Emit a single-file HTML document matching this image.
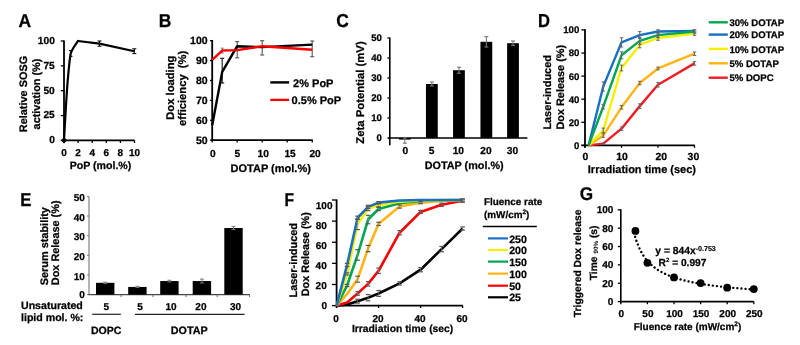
<!DOCTYPE html>
<html><head><meta charset="utf-8"><style>
html,body{margin:0;padding:0;background:#fff;width:800px;height:345px;overflow:hidden}
svg{display:block;will-change:transform}
text{font-family:"Liberation Sans",sans-serif;font-weight:bold;fill:#000;text-rendering:geometricPrecision;stroke:#000;stroke-width:0.25px}
</style></head><body>
<svg width="800" height="345" viewBox="0 0 800 345">
<rect width="800" height="345" fill="#fff"/>
<text transform="translate(18.60,27.00) scale(1,1.07)" font-size="17.5">A</text>
<line x1="64.00" y1="40.40" x2="64.00" y2="141.10" stroke="#000" stroke-width="1.8"/>
<line x1="60.80" y1="140.40" x2="64.00" y2="140.40" stroke="#000" stroke-width="1.3"/>
<text x="54.80" y="143.30" font-size="10.2" text-anchor="end" fill="#000" >0</text>
<line x1="60.80" y1="115.55" x2="64.00" y2="115.55" stroke="#000" stroke-width="1.3"/>
<text x="54.80" y="118.45" font-size="10.2" text-anchor="end" fill="#000" >25</text>
<line x1="60.80" y1="90.70" x2="64.00" y2="90.70" stroke="#000" stroke-width="1.3"/>
<text x="54.80" y="93.60" font-size="10.2" text-anchor="end" fill="#000" >50</text>
<line x1="60.80" y1="65.85" x2="64.00" y2="65.85" stroke="#000" stroke-width="1.3"/>
<text x="54.80" y="68.75" font-size="10.2" text-anchor="end" fill="#000" >75</text>
<line x1="60.80" y1="41.00" x2="64.00" y2="41.00" stroke="#000" stroke-width="1.3"/>
<text x="54.80" y="43.90" font-size="10.2" text-anchor="end" fill="#000" >100</text>
<line x1="63.20" y1="140.40" x2="134.60" y2="140.40" stroke="#000" stroke-width="1.8"/>
<line x1="64.00" y1="140.40" x2="64.00" y2="143.00" stroke="#000" stroke-width="1.3"/>
<text x="64.00" y="155.60" font-size="10" text-anchor="middle" fill="#000" >0</text>
<line x1="78.10" y1="140.40" x2="78.10" y2="143.00" stroke="#000" stroke-width="1.3"/>
<text x="78.10" y="155.60" font-size="10" text-anchor="middle" fill="#000" >2</text>
<line x1="92.20" y1="140.40" x2="92.20" y2="143.00" stroke="#000" stroke-width="1.3"/>
<text x="92.20" y="155.60" font-size="10" text-anchor="middle" fill="#000" >4</text>
<line x1="106.30" y1="140.40" x2="106.30" y2="143.00" stroke="#000" stroke-width="1.3"/>
<text x="106.30" y="155.60" font-size="10" text-anchor="middle" fill="#000" >6</text>
<line x1="120.40" y1="140.40" x2="120.40" y2="143.00" stroke="#000" stroke-width="1.3"/>
<text x="120.40" y="155.60" font-size="10" text-anchor="middle" fill="#000" >8</text>
<line x1="134.50" y1="140.40" x2="134.50" y2="143.00" stroke="#000" stroke-width="1.3"/>
<text x="134.50" y="155.60" font-size="10" text-anchor="middle" fill="#000" >10</text>
<text x="100.50" y="168.80" font-size="10.6" text-anchor="middle" fill="#000" >PoP (mol.%)</text>
<text transform="translate(26.90,94.00) rotate(-90)" font-size="10.9" text-anchor="middle" >Relative SOSG</text>
<text transform="translate(39.60,94.00) rotate(-90)" font-size="10.9" text-anchor="middle" >activation (%)</text>
<path d="M64.00,140.30 C64.16,137.47 65.24,117.83 65.60,112.00 C65.96,106.17 67.09,87.85 67.60,82.00 C68.11,76.15 69.67,57.60 70.70,53.50 C71.73,49.40 77.18,42.25 77.90,41.00" fill="none" stroke="#000" stroke-width="2.2" stroke-linejoin="round" stroke-linecap="round" />
<polyline points="77.90,41.00 99.50,43.60 134.30,51.20" fill="none" stroke="#000" stroke-width="2.2" stroke-linejoin="round" />
<line x1="70.70" y1="50.60" x2="70.70" y2="56.40" stroke="#111" stroke-width="1.1"/>
<line x1="68.95" y1="50.60" x2="72.45" y2="50.60" stroke="#111" stroke-width="1.1"/>
<line x1="68.95" y1="56.40" x2="72.45" y2="56.40" stroke="#111" stroke-width="1.1"/>
<line x1="99.50" y1="41.00" x2="99.50" y2="46.20" stroke="#111" stroke-width="1.1"/>
<line x1="97.50" y1="41.00" x2="101.50" y2="41.00" stroke="#111" stroke-width="1.1"/>
<line x1="97.50" y1="46.20" x2="101.50" y2="46.20" stroke="#111" stroke-width="1.1"/>
<line x1="134.30" y1="48.80" x2="134.30" y2="53.60" stroke="#111" stroke-width="1.1"/>
<line x1="132.30" y1="48.80" x2="136.30" y2="48.80" stroke="#111" stroke-width="1.1"/>
<line x1="132.30" y1="53.60" x2="136.30" y2="53.60" stroke="#111" stroke-width="1.1"/>
<rect x="61.8" y="138.1" width="4.4" height="4.4" transform="rotate(45 64 140.3)" fill="#000"/>
<text transform="translate(158.80,27.20) scale(1,1.07)" font-size="17.5">B</text>
<line x1="212.20" y1="40.00" x2="212.20" y2="140.90" stroke="#000" stroke-width="1.8"/>
<line x1="210.00" y1="140.20" x2="212.20" y2="140.20" stroke="#000" stroke-width="1.3"/>
<text x="207.60" y="143.90" font-size="10.5" text-anchor="end" fill="#000" >50</text>
<line x1="210.00" y1="120.28" x2="212.20" y2="120.28" stroke="#000" stroke-width="1.3"/>
<text x="207.60" y="123.98" font-size="10.5" text-anchor="end" fill="#000" >60</text>
<line x1="210.00" y1="100.36" x2="212.20" y2="100.36" stroke="#000" stroke-width="1.3"/>
<text x="207.60" y="104.06" font-size="10.5" text-anchor="end" fill="#000" >70</text>
<line x1="210.00" y1="80.44" x2="212.20" y2="80.44" stroke="#000" stroke-width="1.3"/>
<text x="207.60" y="84.14" font-size="10.5" text-anchor="end" fill="#000" >80</text>
<line x1="210.00" y1="60.52" x2="212.20" y2="60.52" stroke="#000" stroke-width="1.3"/>
<text x="207.60" y="64.22" font-size="10.5" text-anchor="end" fill="#000" >90</text>
<line x1="210.00" y1="40.60" x2="212.20" y2="40.60" stroke="#000" stroke-width="1.3"/>
<text x="207.60" y="44.30" font-size="10.5" text-anchor="end" fill="#000" >100</text>
<line x1="211.40" y1="140.20" x2="312.80" y2="140.20" stroke="#000" stroke-width="1.8"/>
<line x1="212.20" y1="140.20" x2="212.20" y2="142.60" stroke="#000" stroke-width="1.3"/>
<text x="212.75" y="157.20" font-size="10.2" text-anchor="middle" fill="#000" >0</text>
<line x1="237.20" y1="140.20" x2="237.20" y2="142.60" stroke="#000" stroke-width="1.3"/>
<text x="237.25" y="157.20" font-size="10.2" text-anchor="middle" fill="#000" >5</text>
<line x1="262.20" y1="140.20" x2="262.20" y2="142.60" stroke="#000" stroke-width="1.3"/>
<text x="263.15" y="157.20" font-size="10.2" text-anchor="middle" fill="#000" >10</text>
<line x1="287.20" y1="140.20" x2="287.20" y2="142.60" stroke="#000" stroke-width="1.3"/>
<text x="290.10" y="157.20" font-size="10.2" text-anchor="middle" fill="#000" >15</text>
<line x1="312.20" y1="140.20" x2="312.20" y2="142.60" stroke="#000" stroke-width="1.3"/>
<text x="315.10" y="157.20" font-size="10.2" text-anchor="middle" fill="#000" >20</text>
<text x="270.70" y="172.30" font-size="11" text-anchor="middle" fill="#000" >DOTAP (mol.%)</text>
<text transform="translate(174.00,87.70) rotate(-90)" font-size="11.2" text-anchor="middle" >Dox loading</text>
<text transform="translate(186.00,88.40) rotate(-90)" font-size="11.2" text-anchor="middle" >efficiency&#160; (%)</text>
<line x1="222.20" y1="58.30" x2="222.20" y2="83.00" stroke="#222" stroke-width="1.2"/>
<line x1="220.20" y1="58.30" x2="224.20" y2="58.30" stroke="#222" stroke-width="1.2"/>
<line x1="220.20" y1="83.00" x2="224.20" y2="83.00" stroke="#222" stroke-width="1.2"/>
<line x1="237.20" y1="41.60" x2="237.20" y2="57.80" stroke="#555" stroke-width="1.1"/>
<line x1="235.20" y1="41.60" x2="239.20" y2="41.60" stroke="#555" stroke-width="1.1"/>
<line x1="235.20" y1="57.80" x2="239.20" y2="57.80" stroke="#555" stroke-width="1.1"/>
<line x1="262.20" y1="40.70" x2="262.20" y2="55.00" stroke="#555" stroke-width="1.1"/>
<line x1="260.20" y1="40.70" x2="264.20" y2="40.70" stroke="#555" stroke-width="1.1"/>
<line x1="260.20" y1="55.00" x2="264.20" y2="55.00" stroke="#555" stroke-width="1.1"/>
<line x1="312.20" y1="41.00" x2="312.20" y2="56.70" stroke="#555" stroke-width="1.1"/>
<line x1="310.20" y1="41.00" x2="314.20" y2="41.00" stroke="#555" stroke-width="1.1"/>
<line x1="310.20" y1="56.70" x2="314.20" y2="56.70" stroke="#555" stroke-width="1.1"/>
<polyline points="212.20,125.26 222.20,71.87 237.20,46.18 262.20,47.17 312.20,44.58" fill="none" stroke="#000" stroke-width="2.4" stroke-linejoin="round" />
<line x1="222.20" y1="48.17" x2="222.20" y2="52.95" stroke="#777" stroke-width="1"/>
<line x1="220.70" y1="48.17" x2="223.70" y2="48.17" stroke="#777" stroke-width="1"/>
<line x1="220.70" y1="52.95" x2="223.70" y2="52.95" stroke="#777" stroke-width="1"/>
<polyline points="212.20,59.92 222.20,50.56 237.20,50.16 262.20,46.18 312.20,49.76" fill="none" stroke="#f00" stroke-width="2.4" stroke-linejoin="round" />
<line x1="270.30" y1="82.40" x2="289.10" y2="82.40" stroke="#000" stroke-width="2.4"/>
<text x="293.10" y="86.60" font-size="11" text-anchor="start" fill="#000" >2% PoP</text>
<line x1="270.30" y1="99.90" x2="289.10" y2="99.90" stroke="#f00" stroke-width="2.3"/>
<text x="291.60" y="103.70" font-size="11" text-anchor="start" fill="#000" >0.5% PoP</text>
<text transform="translate(336.20,26.60) scale(1,1.07)" font-size="17.5">C</text>
<line x1="389.80" y1="37.40" x2="389.80" y2="145.30" stroke="#000" stroke-width="1.6"/>
<line x1="387.40" y1="138.00" x2="389.80" y2="138.00" stroke="#000" stroke-width="1.3"/>
<text x="381.80" y="141.40" font-size="9.6" text-anchor="end" fill="#000" >0</text>
<line x1="387.40" y1="118.00" x2="389.80" y2="118.00" stroke="#000" stroke-width="1.3"/>
<text x="381.80" y="121.40" font-size="9.6" text-anchor="end" fill="#000" >10</text>
<line x1="387.40" y1="98.00" x2="389.80" y2="98.00" stroke="#000" stroke-width="1.3"/>
<text x="381.80" y="101.40" font-size="9.6" text-anchor="end" fill="#000" >20</text>
<line x1="387.40" y1="78.00" x2="389.80" y2="78.00" stroke="#000" stroke-width="1.3"/>
<text x="381.80" y="81.40" font-size="9.6" text-anchor="end" fill="#000" >30</text>
<line x1="387.40" y1="58.00" x2="389.80" y2="58.00" stroke="#000" stroke-width="1.3"/>
<text x="381.80" y="61.40" font-size="9.6" text-anchor="end" fill="#000" >40</text>
<line x1="387.40" y1="38.00" x2="389.80" y2="38.00" stroke="#000" stroke-width="1.3"/>
<text x="381.80" y="41.40" font-size="9.6" text-anchor="end" fill="#000" >50</text>
<line x1="388.40" y1="138.00" x2="527.40" y2="138.00" stroke="#000" stroke-width="1.6"/>
<rect x="398.90" y="138.00" width="11.80" height="1.60" fill="#000"/>
<line x1="404.80" y1="138.00" x2="404.80" y2="143.20" stroke="#777" stroke-width="1.1"/>
<line x1="402.80" y1="138.00" x2="406.80" y2="138.00" stroke="#777" stroke-width="1.1"/>
<line x1="402.80" y1="143.20" x2="406.80" y2="143.20" stroke="#777" stroke-width="1.1"/>
<text x="405.40" y="154.10" font-size="10.2" text-anchor="middle" fill="#000" >0</text>
<rect x="425.95" y="84.00" width="11.80" height="54.00" fill="#000"/>
<line x1="431.85" y1="82.00" x2="431.85" y2="86.00" stroke="#777" stroke-width="1.1"/>
<line x1="429.85" y1="82.00" x2="433.85" y2="82.00" stroke="#777" stroke-width="1.1"/>
<line x1="429.85" y1="86.00" x2="433.85" y2="86.00" stroke="#777" stroke-width="1.1"/>
<text x="431.50" y="154.10" font-size="10.2" text-anchor="middle" fill="#000" >5</text>
<rect x="453.05" y="70.20" width="11.80" height="67.80" fill="#000"/>
<line x1="458.95" y1="67.20" x2="458.95" y2="73.20" stroke="#777" stroke-width="1.1"/>
<line x1="456.95" y1="67.20" x2="460.95" y2="67.20" stroke="#777" stroke-width="1.1"/>
<line x1="456.95" y1="73.20" x2="460.95" y2="73.20" stroke="#777" stroke-width="1.1"/>
<text x="458.30" y="154.10" font-size="10.2" text-anchor="middle" fill="#000" >10</text>
<rect x="480.45" y="41.80" width="11.80" height="96.20" fill="#000"/>
<line x1="486.35" y1="36.60" x2="486.35" y2="47.00" stroke="#777" stroke-width="1.1"/>
<line x1="484.35" y1="36.60" x2="488.35" y2="36.60" stroke="#777" stroke-width="1.1"/>
<line x1="484.35" y1="47.00" x2="488.35" y2="47.00" stroke="#777" stroke-width="1.1"/>
<text x="485.90" y="154.10" font-size="10.2" text-anchor="middle" fill="#000" >20</text>
<rect x="507.10" y="43.20" width="11.80" height="94.80" fill="#000"/>
<line x1="513.00" y1="41.00" x2="513.00" y2="45.40" stroke="#777" stroke-width="1.1"/>
<line x1="511.00" y1="41.00" x2="515.00" y2="41.00" stroke="#777" stroke-width="1.1"/>
<line x1="511.00" y1="45.40" x2="515.00" y2="45.40" stroke="#777" stroke-width="1.1"/>
<text x="512.50" y="154.10" font-size="10.2" text-anchor="middle" fill="#000" >30</text>
<text x="464.20" y="169.10" font-size="10.8" text-anchor="middle" fill="#000" >DOTAP (mol.%)</text>
<text transform="translate(364.10,92.50) rotate(-90)" font-size="11.3" text-anchor="middle" >Zeta Potential (mV)</text>
<text transform="translate(537.90,27.20) scale(1,1.14)" font-size="16.5">D</text>
<line x1="585.00" y1="29.30" x2="585.00" y2="147.80" stroke="#000" stroke-width="1.8"/>
<line x1="581.40" y1="145.40" x2="585.00" y2="145.40" stroke="#000" stroke-width="1.3"/>
<text x="579.30" y="148.80" font-size="9.6" text-anchor="end" fill="#000" >0</text>
<line x1="581.40" y1="122.30" x2="585.00" y2="122.30" stroke="#000" stroke-width="1.3"/>
<text x="579.30" y="125.70" font-size="9.6" text-anchor="end" fill="#000" >20</text>
<line x1="581.40" y1="99.20" x2="585.00" y2="99.20" stroke="#000" stroke-width="1.3"/>
<text x="579.30" y="102.60" font-size="9.6" text-anchor="end" fill="#000" >40</text>
<line x1="581.40" y1="76.10" x2="585.00" y2="76.10" stroke="#000" stroke-width="1.3"/>
<text x="579.30" y="79.50" font-size="9.6" text-anchor="end" fill="#000" >60</text>
<line x1="581.40" y1="53.00" x2="585.00" y2="53.00" stroke="#000" stroke-width="1.3"/>
<text x="579.30" y="56.40" font-size="9.6" text-anchor="end" fill="#000" >80</text>
<line x1="581.40" y1="29.90" x2="585.00" y2="29.90" stroke="#000" stroke-width="1.3"/>
<text x="579.30" y="33.30" font-size="9.6" text-anchor="end" fill="#000" >100</text>
<line x1="581.40" y1="145.40" x2="694.80" y2="145.40" stroke="#000" stroke-width="1.8"/>
<line x1="585.00" y1="145.40" x2="585.00" y2="147.80" stroke="#000" stroke-width="1.3"/>
<text x="585.40" y="160.20" font-size="10.4" text-anchor="middle" fill="#000" >0</text>
<line x1="621.50" y1="145.40" x2="621.50" y2="147.80" stroke="#000" stroke-width="1.3"/>
<text x="622.00" y="160.20" font-size="10.4" text-anchor="middle" fill="#000" >10</text>
<line x1="658.00" y1="145.40" x2="658.00" y2="147.80" stroke="#000" stroke-width="1.3"/>
<text x="661.20" y="160.20" font-size="10.4" text-anchor="middle" fill="#000" >20</text>
<line x1="694.50" y1="145.40" x2="694.50" y2="147.80" stroke="#000" stroke-width="1.3"/>
<text x="693.40" y="160.20" font-size="10.4" text-anchor="middle" fill="#000" >30</text>
<text x="641.90" y="173.30" font-size="11" text-anchor="middle" fill="#000" >Irradiation time (sec)</text>
<text transform="translate(551.20,129.60) rotate(-90)" font-size="10.9" text-anchor="start" >Laser-induced</text>
<text transform="translate(564.20,129.60) rotate(-90)" font-size="10.9" text-anchor="start" >Dox Release (%)</text>
<polyline points="588.65,145.40 603.25,143.67 621.50,128.65 639.75,106.13 658.00,84.76 694.50,63.40" fill="none" stroke="#ee1c24" stroke-width="2.4" stroke-linejoin="round" />
<polyline points="588.65,145.40 603.25,135.58 621.50,107.28 639.75,83.03 658.00,68.48 694.50,53.69" fill="none" stroke="#fdb515" stroke-width="2.4" stroke-linejoin="round" />
<polyline points="588.65,145.40 603.25,130.38 621.50,68.02 639.75,44.92 658.00,37.98 694.50,33.60" fill="none" stroke="#f5f000" stroke-width="2.4" stroke-linejoin="round" />
<polyline points="588.65,145.40 603.25,86.50 621.50,42.37 639.75,35.10 658.00,31.52 694.50,31.06" fill="none" stroke="#1a6fc4" stroke-width="2.4" stroke-linejoin="round" />
<polyline points="588.65,145.40 603.25,106.71 621.50,55.31 639.75,40.87 658.00,35.10 694.50,31.52" fill="none" stroke="#00a650" stroke-width="2.4" stroke-linejoin="round" />
<line x1="603.25" y1="104.40" x2="603.25" y2="109.02" stroke="#666" stroke-width="1"/>
<line x1="601.50" y1="104.40" x2="605.00" y2="104.40" stroke="#666" stroke-width="1"/>
<line x1="601.50" y1="109.02" x2="605.00" y2="109.02" stroke="#666" stroke-width="1"/>
<line x1="621.50" y1="51.84" x2="621.50" y2="58.78" stroke="#666" stroke-width="1"/>
<line x1="619.75" y1="51.84" x2="623.25" y2="51.84" stroke="#666" stroke-width="1"/>
<line x1="619.75" y1="58.78" x2="623.25" y2="58.78" stroke="#666" stroke-width="1"/>
<line x1="639.75" y1="37.41" x2="639.75" y2="44.34" stroke="#666" stroke-width="1"/>
<line x1="638.00" y1="37.41" x2="641.50" y2="37.41" stroke="#666" stroke-width="1"/>
<line x1="638.00" y1="44.34" x2="641.50" y2="44.34" stroke="#666" stroke-width="1"/>
<line x1="658.00" y1="32.79" x2="658.00" y2="37.41" stroke="#666" stroke-width="1"/>
<line x1="656.25" y1="32.79" x2="659.75" y2="32.79" stroke="#666" stroke-width="1"/>
<line x1="656.25" y1="37.41" x2="659.75" y2="37.41" stroke="#666" stroke-width="1"/>
<line x1="694.50" y1="29.78" x2="694.50" y2="33.25" stroke="#666" stroke-width="1"/>
<line x1="692.75" y1="29.78" x2="696.25" y2="29.78" stroke="#666" stroke-width="1"/>
<line x1="692.75" y1="33.25" x2="696.25" y2="33.25" stroke="#666" stroke-width="1"/>
<line x1="603.25" y1="81.88" x2="603.25" y2="91.12" stroke="#666" stroke-width="1"/>
<line x1="601.50" y1="81.88" x2="605.00" y2="81.88" stroke="#666" stroke-width="1"/>
<line x1="601.50" y1="91.12" x2="605.00" y2="91.12" stroke="#666" stroke-width="1"/>
<line x1="621.50" y1="37.75" x2="621.50" y2="46.99" stroke="#666" stroke-width="1"/>
<line x1="619.75" y1="37.75" x2="623.25" y2="37.75" stroke="#666" stroke-width="1"/>
<line x1="619.75" y1="46.99" x2="623.25" y2="46.99" stroke="#666" stroke-width="1"/>
<line x1="639.75" y1="31.63" x2="639.75" y2="38.56" stroke="#666" stroke-width="1"/>
<line x1="638.00" y1="31.63" x2="641.50" y2="31.63" stroke="#666" stroke-width="1"/>
<line x1="638.00" y1="38.56" x2="641.50" y2="38.56" stroke="#666" stroke-width="1"/>
<line x1="658.00" y1="29.78" x2="658.00" y2="33.25" stroke="#666" stroke-width="1"/>
<line x1="656.25" y1="29.78" x2="659.75" y2="29.78" stroke="#666" stroke-width="1"/>
<line x1="656.25" y1="33.25" x2="659.75" y2="33.25" stroke="#666" stroke-width="1"/>
<line x1="694.50" y1="29.90" x2="694.50" y2="32.21" stroke="#666" stroke-width="1"/>
<line x1="692.75" y1="29.90" x2="696.25" y2="29.90" stroke="#666" stroke-width="1"/>
<line x1="692.75" y1="32.21" x2="696.25" y2="32.21" stroke="#666" stroke-width="1"/>
<line x1="603.25" y1="128.08" x2="603.25" y2="132.69" stroke="#666" stroke-width="1"/>
<line x1="601.50" y1="128.08" x2="605.00" y2="128.08" stroke="#666" stroke-width="1"/>
<line x1="601.50" y1="132.69" x2="605.00" y2="132.69" stroke="#666" stroke-width="1"/>
<line x1="621.50" y1="65.13" x2="621.50" y2="70.90" stroke="#666" stroke-width="1"/>
<line x1="619.75" y1="65.13" x2="623.25" y2="65.13" stroke="#666" stroke-width="1"/>
<line x1="619.75" y1="70.90" x2="623.25" y2="70.90" stroke="#666" stroke-width="1"/>
<line x1="639.75" y1="42.03" x2="639.75" y2="47.80" stroke="#666" stroke-width="1"/>
<line x1="638.00" y1="42.03" x2="641.50" y2="42.03" stroke="#666" stroke-width="1"/>
<line x1="638.00" y1="47.80" x2="641.50" y2="47.80" stroke="#666" stroke-width="1"/>
<line x1="658.00" y1="35.67" x2="658.00" y2="40.30" stroke="#666" stroke-width="1"/>
<line x1="656.25" y1="35.67" x2="659.75" y2="35.67" stroke="#666" stroke-width="1"/>
<line x1="656.25" y1="40.30" x2="659.75" y2="40.30" stroke="#666" stroke-width="1"/>
<line x1="694.50" y1="31.86" x2="694.50" y2="35.33" stroke="#666" stroke-width="1"/>
<line x1="692.75" y1="31.86" x2="696.25" y2="31.86" stroke="#666" stroke-width="1"/>
<line x1="692.75" y1="35.33" x2="696.25" y2="35.33" stroke="#666" stroke-width="1"/>
<line x1="603.25" y1="133.85" x2="603.25" y2="137.31" stroke="#666" stroke-width="1"/>
<line x1="601.50" y1="133.85" x2="605.00" y2="133.85" stroke="#666" stroke-width="1"/>
<line x1="601.50" y1="137.31" x2="605.00" y2="137.31" stroke="#666" stroke-width="1"/>
<line x1="621.50" y1="105.55" x2="621.50" y2="109.02" stroke="#666" stroke-width="1"/>
<line x1="619.75" y1="105.55" x2="623.25" y2="105.55" stroke="#666" stroke-width="1"/>
<line x1="619.75" y1="109.02" x2="623.25" y2="109.02" stroke="#666" stroke-width="1"/>
<line x1="639.75" y1="81.30" x2="639.75" y2="84.76" stroke="#666" stroke-width="1"/>
<line x1="638.00" y1="81.30" x2="641.50" y2="81.30" stroke="#666" stroke-width="1"/>
<line x1="638.00" y1="84.76" x2="641.50" y2="84.76" stroke="#666" stroke-width="1"/>
<line x1="658.00" y1="67.09" x2="658.00" y2="69.86" stroke="#666" stroke-width="1"/>
<line x1="656.25" y1="67.09" x2="659.75" y2="67.09" stroke="#666" stroke-width="1"/>
<line x1="656.25" y1="69.86" x2="659.75" y2="69.86" stroke="#666" stroke-width="1"/>
<line x1="694.50" y1="51.96" x2="694.50" y2="55.43" stroke="#666" stroke-width="1"/>
<line x1="692.75" y1="51.96" x2="696.25" y2="51.96" stroke="#666" stroke-width="1"/>
<line x1="692.75" y1="55.43" x2="696.25" y2="55.43" stroke="#666" stroke-width="1"/>
<line x1="603.25" y1="143.09" x2="603.25" y2="144.25" stroke="#666" stroke-width="1"/>
<line x1="601.50" y1="143.09" x2="605.00" y2="143.09" stroke="#666" stroke-width="1"/>
<line x1="601.50" y1="144.25" x2="605.00" y2="144.25" stroke="#666" stroke-width="1"/>
<line x1="621.50" y1="126.92" x2="621.50" y2="130.38" stroke="#666" stroke-width="1"/>
<line x1="619.75" y1="126.92" x2="623.25" y2="126.92" stroke="#666" stroke-width="1"/>
<line x1="619.75" y1="130.38" x2="623.25" y2="130.38" stroke="#666" stroke-width="1"/>
<line x1="639.75" y1="103.82" x2="639.75" y2="108.44" stroke="#666" stroke-width="1"/>
<line x1="638.00" y1="103.82" x2="641.50" y2="103.82" stroke="#666" stroke-width="1"/>
<line x1="638.00" y1="108.44" x2="641.50" y2="108.44" stroke="#666" stroke-width="1"/>
<line x1="658.00" y1="82.45" x2="658.00" y2="87.07" stroke="#666" stroke-width="1"/>
<line x1="656.25" y1="82.45" x2="659.75" y2="82.45" stroke="#666" stroke-width="1"/>
<line x1="656.25" y1="87.07" x2="659.75" y2="87.07" stroke="#666" stroke-width="1"/>
<line x1="694.50" y1="61.66" x2="694.50" y2="65.13" stroke="#666" stroke-width="1"/>
<line x1="692.75" y1="61.66" x2="696.25" y2="61.66" stroke="#666" stroke-width="1"/>
<line x1="692.75" y1="65.13" x2="696.25" y2="65.13" stroke="#666" stroke-width="1"/>
<line x1="708.70" y1="22.30" x2="727.80" y2="22.30" stroke="#00a650" stroke-width="2.4"/>
<text x="729.40" y="25.90" font-size="9.6" text-anchor="start" fill="#000" >30% DOTAP</text>
<line x1="708.70" y1="34.60" x2="727.80" y2="34.60" stroke="#1a6fc4" stroke-width="2.4"/>
<text x="729.40" y="38.20" font-size="9.6" text-anchor="start" fill="#000" >20% DOTAP</text>
<line x1="708.70" y1="48.90" x2="727.80" y2="48.90" stroke="#f5f000" stroke-width="2.4"/>
<text x="729.40" y="52.50" font-size="9.6" text-anchor="start" fill="#000" >10% DOTAP</text>
<line x1="708.70" y1="63.30" x2="727.80" y2="63.30" stroke="#fdb515" stroke-width="2.4"/>
<text x="729.40" y="66.90" font-size="9.6" text-anchor="start" fill="#000" >5% DOTAP</text>
<line x1="708.70" y1="77.70" x2="727.80" y2="77.70" stroke="#ee1c24" stroke-width="2.4"/>
<text x="729.40" y="81.30" font-size="9.6" text-anchor="start" fill="#000" >5% DOPC</text>
<text transform="translate(20.30,206.30) scale(1,1.12)" font-size="16.7">E</text>
<line x1="89.00" y1="196.40" x2="89.00" y2="294.60" stroke="#777" stroke-width="1.1"/>
<line x1="87.00" y1="294.60" x2="89.00" y2="294.60" stroke="#777" stroke-width="1"/>
<text x="84.80" y="298.30" font-size="10" text-anchor="end" fill="#000" >0</text>
<line x1="87.00" y1="274.96" x2="89.00" y2="274.96" stroke="#777" stroke-width="1"/>
<text x="84.80" y="279.76" font-size="10" text-anchor="end" fill="#000" >10</text>
<line x1="87.00" y1="255.32" x2="89.00" y2="255.32" stroke="#777" stroke-width="1"/>
<text x="84.80" y="260.12" font-size="10" text-anchor="end" fill="#000" >20</text>
<line x1="87.00" y1="235.68" x2="89.00" y2="235.68" stroke="#777" stroke-width="1"/>
<text x="84.80" y="240.48" font-size="10" text-anchor="end" fill="#000" >30</text>
<line x1="87.00" y1="216.04" x2="89.00" y2="216.04" stroke="#777" stroke-width="1"/>
<text x="84.80" y="220.84" font-size="10" text-anchor="end" fill="#000" >40</text>
<line x1="87.00" y1="196.40" x2="89.00" y2="196.40" stroke="#777" stroke-width="1"/>
<text x="84.80" y="201.20" font-size="10" text-anchor="end" fill="#000" >50</text>
<line x1="88.40" y1="294.60" x2="249.80" y2="294.60" stroke="#444" stroke-width="1.3"/>
<line x1="121.10" y1="294.60" x2="121.10" y2="297.00" stroke="#666" stroke-width="1"/>
<line x1="153.00" y1="294.60" x2="153.00" y2="297.00" stroke="#666" stroke-width="1"/>
<line x1="186.00" y1="294.60" x2="186.00" y2="297.00" stroke="#666" stroke-width="1"/>
<line x1="217.20" y1="294.60" x2="217.20" y2="297.00" stroke="#666" stroke-width="1"/>
<line x1="249.60" y1="294.60" x2="249.60" y2="297.00" stroke="#666" stroke-width="1"/>
<rect x="96.00" y="282.82" width="18.40" height="11.78" fill="#000"/>
<line x1="105.20" y1="282.23" x2="105.20" y2="283.41" stroke="#777" stroke-width="1"/>
<line x1="103.20" y1="282.23" x2="107.20" y2="282.23" stroke="#777" stroke-width="1"/>
<line x1="103.20" y1="283.41" x2="107.20" y2="283.41" stroke="#777" stroke-width="1"/>
<rect x="128.20" y="286.94" width="18.40" height="7.66" fill="#000"/>
<line x1="137.40" y1="286.35" x2="137.40" y2="287.53" stroke="#777" stroke-width="1"/>
<line x1="135.40" y1="286.35" x2="139.40" y2="286.35" stroke="#777" stroke-width="1"/>
<line x1="135.40" y1="287.53" x2="139.40" y2="287.53" stroke="#777" stroke-width="1"/>
<rect x="160.20" y="281.05" width="18.40" height="13.55" fill="#000"/>
<line x1="169.40" y1="280.26" x2="169.40" y2="281.83" stroke="#777" stroke-width="1"/>
<line x1="167.40" y1="280.26" x2="171.40" y2="280.26" stroke="#777" stroke-width="1"/>
<line x1="167.40" y1="281.83" x2="171.40" y2="281.83" stroke="#777" stroke-width="1"/>
<rect x="192.70" y="281.05" width="18.40" height="13.55" fill="#000"/>
<line x1="201.90" y1="279.08" x2="201.90" y2="283.01" stroke="#777" stroke-width="1"/>
<line x1="199.90" y1="279.08" x2="203.90" y2="279.08" stroke="#777" stroke-width="1"/>
<line x1="199.90" y1="283.01" x2="203.90" y2="283.01" stroke="#777" stroke-width="1"/>
<rect x="224.30" y="228.02" width="18.40" height="66.58" fill="#000"/>
<line x1="233.50" y1="226.45" x2="233.50" y2="229.59" stroke="#777" stroke-width="1"/>
<line x1="231.50" y1="226.45" x2="235.50" y2="226.45" stroke="#777" stroke-width="1"/>
<line x1="231.50" y1="229.59" x2="235.50" y2="229.59" stroke="#777" stroke-width="1"/>
<text x="106.20" y="310.20" font-size="10" text-anchor="middle" fill="#000" >5</text>
<text x="140.00" y="310.20" font-size="10" text-anchor="middle" fill="#000" >5</text>
<text x="171.00" y="310.20" font-size="10" text-anchor="middle" fill="#000" >10</text>
<text x="200.90" y="310.20" font-size="10" text-anchor="middle" fill="#000" >20</text>
<text x="235.50" y="310.20" font-size="10" text-anchor="middle" fill="#000" >30</text>
<text x="21.00" y="308.60" font-size="10.6" text-anchor="start" fill="#000" >Unsaturated</text>
<text x="21.00" y="321.00" font-size="10.6" text-anchor="start" fill="#000" >lipid mol. %:</text>
<line x1="92.20" y1="314.30" x2="120.80" y2="314.30" stroke="#222" stroke-width="1.2"/>
<line x1="135.00" y1="314.30" x2="244.60" y2="314.30" stroke="#222" stroke-width="1.2"/>
<text x="106.20" y="333.50" font-size="10.6" text-anchor="middle" fill="#000" >DOPC</text>
<text x="189.30" y="333.60" font-size="10.8" text-anchor="middle" fill="#000" >DOTAP</text>
<text transform="translate(47.60,285.20) rotate(-90)" font-size="10.9" text-anchor="start" >Serum stability</text>
<text transform="translate(59.40,285.20) rotate(-90)" font-size="10.9" text-anchor="start" >Dox Release (%)</text>
<text transform="translate(284.50,206.00) scale(1,1.2)" font-size="15.6">F</text>
<line x1="336.60" y1="199.40" x2="336.60" y2="307.80" stroke="#000" stroke-width="1.8"/>
<line x1="332.00" y1="305.60" x2="336.60" y2="305.60" stroke="#000" stroke-width="1.3"/>
<line x1="332.00" y1="284.48" x2="336.60" y2="284.48" stroke="#000" stroke-width="1.3"/>
<line x1="332.00" y1="263.36" x2="336.60" y2="263.36" stroke="#000" stroke-width="1.3"/>
<line x1="332.00" y1="242.24" x2="336.60" y2="242.24" stroke="#000" stroke-width="1.3"/>
<line x1="332.00" y1="221.12" x2="336.60" y2="221.12" stroke="#000" stroke-width="1.3"/>
<line x1="332.00" y1="200.00" x2="336.60" y2="200.00" stroke="#000" stroke-width="1.3"/>
<text x="321.40" y="308.80" font-size="10" text-anchor="start" fill="#000" >0</text>
<text x="315.60" y="289.10" font-size="10" text-anchor="start" fill="#000" >20</text>
<text x="315.60" y="268.80" font-size="10" text-anchor="start" fill="#000" >40</text>
<text x="315.80" y="248.80" font-size="10" text-anchor="start" fill="#000" >60</text>
<text x="315.80" y="228.80" font-size="10" text-anchor="start" fill="#000" >80</text>
<text x="315.80" y="208.60" font-size="10" text-anchor="start" fill="#000" >100</text>
<line x1="335.80" y1="305.60" x2="462.80" y2="305.60" stroke="#000" stroke-width="1.8"/>
<line x1="336.60" y1="305.60" x2="336.60" y2="308.00" stroke="#000" stroke-width="1.3"/>
<text x="336.00" y="321.60" font-size="10" text-anchor="middle" fill="#000" >0</text>
<line x1="378.60" y1="305.60" x2="378.60" y2="308.00" stroke="#000" stroke-width="1.3"/>
<text x="378.00" y="321.60" font-size="10" text-anchor="middle" fill="#000" >20</text>
<line x1="420.60" y1="305.60" x2="420.60" y2="308.00" stroke="#000" stroke-width="1.3"/>
<text x="420.00" y="321.60" font-size="10" text-anchor="middle" fill="#000" >40</text>
<line x1="462.60" y1="305.60" x2="462.60" y2="308.00" stroke="#000" stroke-width="1.3"/>
<text x="462.00" y="321.60" font-size="10" text-anchor="middle" fill="#000" >60</text>
<text x="402.60" y="332.30" font-size="10.3" text-anchor="middle" fill="#000" >Irradiation time (sec)</text>
<text transform="translate(296.80,297.50) rotate(-90)" font-size="10.9" text-anchor="start" >Laser-induced</text>
<text transform="translate(308.60,296.20) rotate(-90)" font-size="10.8" text-anchor="start" >Dox Release (%)</text>
<polyline points="336.60,305.60 347.10,304.54 357.60,301.16 368.10,297.68 378.60,293.46 399.60,283.42 420.60,269.70 441.60,249.10 462.60,228.51" fill="none" stroke="#000000" stroke-width="2.6" stroke-linejoin="round" />
<polyline points="336.60,305.60 347.10,302.43 357.60,293.46 368.10,283.85 378.60,270.75 399.60,232.74 420.60,211.93 441.60,204.75 462.60,200.74" fill="none" stroke="#ff0000" stroke-width="2.6" stroke-linejoin="round" />
<polyline points="336.60,305.60 347.10,293.98 357.60,279.20 368.10,248.58 378.60,223.87 399.60,206.55 420.60,202.64 441.60,201.06 462.60,200.00" fill="none" stroke="#fdb515" stroke-width="2.6" stroke-linejoin="round" />
<polyline points="336.60,305.60 347.10,285.54 357.60,254.91 368.10,219.54 378.60,208.98 399.60,203.17 420.60,201.06 441.60,200.32 462.60,200.00" fill="none" stroke="#00a650" stroke-width="2.6" stroke-linejoin="round" />
<polyline points="336.60,305.60 347.10,273.92 357.60,224.29 368.10,208.45 378.60,205.28 399.60,201.58 420.60,200.53 441.60,200.11 462.60,200.00" fill="none" stroke="#f5f000" stroke-width="2.6" stroke-linejoin="round" />
<polyline points="336.60,305.60 347.10,264.94 357.60,217.74 368.10,206.86 378.60,202.64 399.60,200.53 420.60,200.00 441.60,200.00 462.60,200.00" fill="none" stroke="#1a6fc4" stroke-width="2.6" stroke-linejoin="round" />
<line x1="357.60" y1="299.26" x2="357.60" y2="303.07" stroke="#888" stroke-width="0.7"/>
<line x1="355.30" y1="299.26" x2="359.90" y2="299.26" stroke="#555" stroke-width="1.2"/>
<line x1="355.30" y1="303.07" x2="359.90" y2="303.07" stroke="#555" stroke-width="1.2"/>
<line x1="368.10" y1="294.51" x2="368.10" y2="300.85" stroke="#888" stroke-width="0.7"/>
<line x1="365.80" y1="294.51" x2="370.40" y2="294.51" stroke="#555" stroke-width="1.2"/>
<line x1="365.80" y1="300.85" x2="370.40" y2="300.85" stroke="#555" stroke-width="1.2"/>
<line x1="378.60" y1="290.50" x2="378.60" y2="296.41" stroke="#888" stroke-width="0.7"/>
<line x1="376.30" y1="290.50" x2="380.90" y2="290.50" stroke="#555" stroke-width="1.2"/>
<line x1="376.30" y1="296.41" x2="380.90" y2="296.41" stroke="#555" stroke-width="1.2"/>
<line x1="399.60" y1="281.84" x2="399.60" y2="285.01" stroke="#888" stroke-width="0.7"/>
<line x1="397.30" y1="281.84" x2="401.90" y2="281.84" stroke="#555" stroke-width="1.2"/>
<line x1="397.30" y1="285.01" x2="401.90" y2="285.01" stroke="#555" stroke-width="1.2"/>
<line x1="420.60" y1="267.58" x2="420.60" y2="271.81" stroke="#888" stroke-width="0.7"/>
<line x1="418.30" y1="267.58" x2="422.90" y2="267.58" stroke="#555" stroke-width="1.2"/>
<line x1="418.30" y1="271.81" x2="422.90" y2="271.81" stroke="#555" stroke-width="1.2"/>
<line x1="441.60" y1="246.46" x2="441.60" y2="251.74" stroke="#888" stroke-width="0.7"/>
<line x1="439.30" y1="246.46" x2="443.90" y2="246.46" stroke="#555" stroke-width="1.2"/>
<line x1="439.30" y1="251.74" x2="443.90" y2="251.74" stroke="#555" stroke-width="1.2"/>
<line x1="462.60" y1="226.93" x2="462.60" y2="230.10" stroke="#888" stroke-width="0.7"/>
<line x1="460.30" y1="226.93" x2="464.90" y2="226.93" stroke="#555" stroke-width="1.2"/>
<line x1="460.30" y1="230.10" x2="464.90" y2="230.10" stroke="#555" stroke-width="1.2"/>
<line x1="357.60" y1="291.66" x2="357.60" y2="295.25" stroke="#888" stroke-width="0.7"/>
<line x1="355.30" y1="291.66" x2="359.90" y2="291.66" stroke="#555" stroke-width="1.2"/>
<line x1="355.30" y1="295.25" x2="359.90" y2="295.25" stroke="#555" stroke-width="1.2"/>
<line x1="368.10" y1="281.73" x2="368.10" y2="285.96" stroke="#888" stroke-width="0.7"/>
<line x1="365.80" y1="281.73" x2="370.40" y2="281.73" stroke="#555" stroke-width="1.2"/>
<line x1="365.80" y1="285.96" x2="370.40" y2="285.96" stroke="#555" stroke-width="1.2"/>
<line x1="378.60" y1="268.11" x2="378.60" y2="273.39" stroke="#888" stroke-width="0.7"/>
<line x1="376.30" y1="268.11" x2="380.90" y2="268.11" stroke="#555" stroke-width="1.2"/>
<line x1="376.30" y1="273.39" x2="380.90" y2="273.39" stroke="#555" stroke-width="1.2"/>
<line x1="399.60" y1="230.62" x2="399.60" y2="234.85" stroke="#888" stroke-width="0.7"/>
<line x1="397.30" y1="230.62" x2="401.90" y2="230.62" stroke="#555" stroke-width="1.2"/>
<line x1="397.30" y1="234.85" x2="401.90" y2="234.85" stroke="#555" stroke-width="1.2"/>
<line x1="420.60" y1="210.35" x2="420.60" y2="213.52" stroke="#888" stroke-width="0.7"/>
<line x1="418.30" y1="210.35" x2="422.90" y2="210.35" stroke="#555" stroke-width="1.2"/>
<line x1="418.30" y1="213.52" x2="422.90" y2="213.52" stroke="#555" stroke-width="1.2"/>
<line x1="441.60" y1="203.17" x2="441.60" y2="206.34" stroke="#888" stroke-width="0.7"/>
<line x1="439.30" y1="203.17" x2="443.90" y2="203.17" stroke="#555" stroke-width="1.2"/>
<line x1="439.30" y1="206.34" x2="443.90" y2="206.34" stroke="#555" stroke-width="1.2"/>
<line x1="462.60" y1="199.16" x2="462.60" y2="202.32" stroke="#888" stroke-width="0.7"/>
<line x1="460.30" y1="199.16" x2="464.90" y2="199.16" stroke="#555" stroke-width="1.2"/>
<line x1="460.30" y1="202.32" x2="464.90" y2="202.32" stroke="#555" stroke-width="1.2"/>
<line x1="357.60" y1="276.24" x2="357.60" y2="282.16" stroke="#888" stroke-width="0.7"/>
<line x1="355.30" y1="276.24" x2="359.90" y2="276.24" stroke="#555" stroke-width="1.2"/>
<line x1="355.30" y1="282.16" x2="359.90" y2="282.16" stroke="#555" stroke-width="1.2"/>
<line x1="368.10" y1="245.41" x2="368.10" y2="251.74" stroke="#888" stroke-width="0.7"/>
<line x1="365.80" y1="245.41" x2="370.40" y2="245.41" stroke="#555" stroke-width="1.2"/>
<line x1="365.80" y1="251.74" x2="370.40" y2="251.74" stroke="#555" stroke-width="1.2"/>
<line x1="378.60" y1="222.28" x2="378.60" y2="225.45" stroke="#888" stroke-width="0.7"/>
<line x1="376.30" y1="222.28" x2="380.90" y2="222.28" stroke="#555" stroke-width="1.2"/>
<line x1="376.30" y1="225.45" x2="380.90" y2="225.45" stroke="#555" stroke-width="1.2"/>
<line x1="399.60" y1="204.96" x2="399.60" y2="208.13" stroke="#888" stroke-width="0.7"/>
<line x1="397.30" y1="204.96" x2="401.90" y2="204.96" stroke="#555" stroke-width="1.2"/>
<line x1="397.30" y1="208.13" x2="401.90" y2="208.13" stroke="#555" stroke-width="1.2"/>
<line x1="420.60" y1="201.58" x2="420.60" y2="203.70" stroke="#888" stroke-width="0.7"/>
<line x1="418.30" y1="201.58" x2="422.90" y2="201.58" stroke="#555" stroke-width="1.2"/>
<line x1="418.30" y1="203.70" x2="422.90" y2="203.70" stroke="#555" stroke-width="1.2"/>
<line x1="347.10" y1="284.48" x2="347.10" y2="286.59" stroke="#888" stroke-width="0.7"/>
<line x1="344.80" y1="284.48" x2="349.40" y2="284.48" stroke="#555" stroke-width="1.2"/>
<line x1="344.80" y1="286.59" x2="349.40" y2="286.59" stroke="#555" stroke-width="1.2"/>
<line x1="357.60" y1="249.63" x2="357.60" y2="260.19" stroke="#888" stroke-width="0.7"/>
<line x1="355.30" y1="249.63" x2="359.90" y2="249.63" stroke="#555" stroke-width="1.2"/>
<line x1="355.30" y1="260.19" x2="359.90" y2="260.19" stroke="#555" stroke-width="1.2"/>
<line x1="368.10" y1="215.31" x2="368.10" y2="223.76" stroke="#888" stroke-width="0.7"/>
<line x1="365.80" y1="215.31" x2="370.40" y2="215.31" stroke="#555" stroke-width="1.2"/>
<line x1="365.80" y1="223.76" x2="370.40" y2="223.76" stroke="#555" stroke-width="1.2"/>
<line x1="378.60" y1="207.39" x2="378.60" y2="210.56" stroke="#888" stroke-width="0.7"/>
<line x1="376.30" y1="207.39" x2="380.90" y2="207.39" stroke="#555" stroke-width="1.2"/>
<line x1="376.30" y1="210.56" x2="380.90" y2="210.56" stroke="#555" stroke-width="1.2"/>
<line x1="462.60" y1="198.94" x2="462.60" y2="201.06" stroke="#888" stroke-width="0.7"/>
<line x1="460.30" y1="198.94" x2="464.90" y2="198.94" stroke="#555" stroke-width="1.2"/>
<line x1="460.30" y1="201.06" x2="464.90" y2="201.06" stroke="#555" stroke-width="1.2"/>
<line x1="347.10" y1="272.86" x2="347.10" y2="274.98" stroke="#888" stroke-width="0.7"/>
<line x1="344.80" y1="272.86" x2="349.40" y2="272.86" stroke="#555" stroke-width="1.2"/>
<line x1="344.80" y1="274.98" x2="349.40" y2="274.98" stroke="#555" stroke-width="1.2"/>
<line x1="357.60" y1="219.01" x2="357.60" y2="229.57" stroke="#888" stroke-width="0.7"/>
<line x1="355.30" y1="219.01" x2="359.90" y2="219.01" stroke="#555" stroke-width="1.2"/>
<line x1="355.30" y1="229.57" x2="359.90" y2="229.57" stroke="#555" stroke-width="1.2"/>
<line x1="368.10" y1="206.34" x2="368.10" y2="210.56" stroke="#888" stroke-width="0.7"/>
<line x1="365.80" y1="206.34" x2="370.40" y2="206.34" stroke="#555" stroke-width="1.2"/>
<line x1="365.80" y1="210.56" x2="370.40" y2="210.56" stroke="#555" stroke-width="1.2"/>
<line x1="378.60" y1="203.70" x2="378.60" y2="206.86" stroke="#888" stroke-width="0.7"/>
<line x1="376.30" y1="203.70" x2="380.90" y2="203.70" stroke="#555" stroke-width="1.2"/>
<line x1="376.30" y1="206.86" x2="380.90" y2="206.86" stroke="#555" stroke-width="1.2"/>
<line x1="347.10" y1="263.36" x2="347.10" y2="266.53" stroke="#888" stroke-width="0.7"/>
<line x1="344.80" y1="263.36" x2="349.40" y2="263.36" stroke="#555" stroke-width="1.2"/>
<line x1="344.80" y1="266.53" x2="349.40" y2="266.53" stroke="#555" stroke-width="1.2"/>
<line x1="357.60" y1="216.16" x2="357.60" y2="219.32" stroke="#888" stroke-width="0.7"/>
<line x1="355.30" y1="216.16" x2="359.90" y2="216.16" stroke="#555" stroke-width="1.2"/>
<line x1="355.30" y1="219.32" x2="359.90" y2="219.32" stroke="#555" stroke-width="1.2"/>
<line x1="368.10" y1="205.28" x2="368.10" y2="208.45" stroke="#888" stroke-width="0.7"/>
<line x1="365.80" y1="205.28" x2="370.40" y2="205.28" stroke="#555" stroke-width="1.2"/>
<line x1="365.80" y1="208.45" x2="370.40" y2="208.45" stroke="#555" stroke-width="1.2"/>
<line x1="378.60" y1="201.58" x2="378.60" y2="203.70" stroke="#888" stroke-width="0.7"/>
<line x1="376.30" y1="201.58" x2="380.90" y2="201.58" stroke="#555" stroke-width="1.2"/>
<line x1="376.30" y1="203.70" x2="380.90" y2="203.70" stroke="#555" stroke-width="1.2"/>
<text x="484.00" y="204.50" font-size="9.9" text-anchor="start" fill="#000" >Fluence rate</text>
<text x="484" y="217.7" font-size="9.9">(mW/cm<tspan font-size="6.5" dy="-4">2</tspan><tspan dy="4">)</tspan></text>
<line x1="482.80" y1="226.60" x2="536.80" y2="226.60" stroke="#000" stroke-width="1.5"/>
<line x1="488.00" y1="238.40" x2="508.00" y2="238.40" stroke="#1a6fc4" stroke-width="2.2"/>
<text x="509.20" y="242.50" font-size="10.6" text-anchor="start" fill="#000" >250</text>
<line x1="488.00" y1="250.00" x2="508.00" y2="250.00" stroke="#f5f000" stroke-width="2.2"/>
<text x="509.20" y="254.10" font-size="10.6" text-anchor="start" fill="#000" >200</text>
<line x1="488.00" y1="261.60" x2="508.00" y2="261.60" stroke="#00a650" stroke-width="2.2"/>
<text x="509.20" y="265.70" font-size="10.6" text-anchor="start" fill="#000" >150</text>
<line x1="488.00" y1="273.60" x2="508.00" y2="273.60" stroke="#fdb515" stroke-width="2.2"/>
<text x="509.20" y="277.70" font-size="10.6" text-anchor="start" fill="#000" >100</text>
<line x1="488.00" y1="285.70" x2="508.00" y2="285.70" stroke="#ff0000" stroke-width="2.2"/>
<text x="509.20" y="289.80" font-size="10.6" text-anchor="start" fill="#000" >50</text>
<line x1="488.00" y1="297.30" x2="508.00" y2="297.30" stroke="#000000" stroke-width="2.2"/>
<text x="509.20" y="301.40" font-size="10.6" text-anchor="start" fill="#000" >25</text>
<text transform="translate(579.80,200.00) scale(1,1.07)" font-size="17.2">G</text>
<line x1="620.80" y1="209.20" x2="620.80" y2="302.30" stroke="#000" stroke-width="1.6"/>
<line x1="617.80" y1="301.60" x2="620.80" y2="301.60" stroke="#000" stroke-width="1.3"/>
<text x="613.40" y="305.20" font-size="10" text-anchor="end" fill="#000" >0</text>
<line x1="617.80" y1="283.24" x2="620.80" y2="283.24" stroke="#000" stroke-width="1.3"/>
<text x="613.40" y="286.84" font-size="10" text-anchor="end" fill="#000" >20</text>
<line x1="617.80" y1="264.88" x2="620.80" y2="264.88" stroke="#000" stroke-width="1.3"/>
<text x="613.40" y="268.48" font-size="10" text-anchor="end" fill="#000" >40</text>
<line x1="617.80" y1="246.52" x2="620.80" y2="246.52" stroke="#000" stroke-width="1.3"/>
<text x="613.40" y="250.12" font-size="10" text-anchor="end" fill="#000" >60</text>
<line x1="617.80" y1="228.16" x2="620.80" y2="228.16" stroke="#000" stroke-width="1.3"/>
<text x="613.40" y="231.76" font-size="10" text-anchor="end" fill="#000" >80</text>
<line x1="617.80" y1="209.80" x2="620.80" y2="209.80" stroke="#000" stroke-width="1.3"/>
<text x="613.40" y="213.40" font-size="10" text-anchor="end" fill="#000" >100</text>
<line x1="620.00" y1="301.60" x2="753.80" y2="301.60" stroke="#000" stroke-width="1.6"/>
<line x1="620.80" y1="301.60" x2="620.80" y2="304.20" stroke="#000" stroke-width="1.3"/>
<text x="621.30" y="317.20" font-size="10" text-anchor="middle" fill="#000" >0</text>
<line x1="647.40" y1="301.60" x2="647.40" y2="304.20" stroke="#000" stroke-width="1.3"/>
<text x="647.90" y="317.20" font-size="10" text-anchor="middle" fill="#000" >50</text>
<line x1="674.00" y1="301.60" x2="674.00" y2="304.20" stroke="#000" stroke-width="1.3"/>
<text x="674.50" y="317.20" font-size="10" text-anchor="middle" fill="#000" >100</text>
<line x1="700.60" y1="301.60" x2="700.60" y2="304.20" stroke="#000" stroke-width="1.3"/>
<text x="701.10" y="317.20" font-size="10" text-anchor="middle" fill="#000" >150</text>
<line x1="727.20" y1="301.60" x2="727.20" y2="304.20" stroke="#000" stroke-width="1.3"/>
<text x="727.70" y="317.20" font-size="10" text-anchor="middle" fill="#000" >200</text>
<line x1="753.80" y1="301.60" x2="753.80" y2="304.20" stroke="#000" stroke-width="1.3"/>
<text x="754.30" y="317.20" font-size="10" text-anchor="middle" fill="#000" >250</text>
<text x="687.5" y="329.6" font-size="10" text-anchor="middle">Fluence rate (mW/cm<tspan font-size="6.5" dy="-3.4">2</tspan><tspan dy="3.4">)</tspan></text>
<text transform="translate(581.40,263.40) rotate(-90)" font-size="10.3" text-anchor="middle" >Triggered Dox release</text>
<text transform="translate(596.6,280.3) rotate(-90)" font-size="10.3">Time <tspan font-size="6.3" dy="1.8" style="stroke-width:0">90%</tspan><tspan dy="-1.8"> (s)</tspan></text>
<polyline points="635.16,236.83 635.76,238.77 636.35,240.59 636.94,242.28 637.54,243.87 638.13,245.37 638.72,246.78 639.32,248.10 639.91,249.36 640.50,250.55 641.10,251.67 641.69,252.75 642.28,253.77 642.88,254.74 643.47,255.66 644.06,256.55 644.65,257.39 645.25,258.20 645.84,258.98 646.43,259.73 647.03,260.44 647.62,261.13 648.21,261.79 648.81,262.43 649.40,263.04 649.99,263.63 650.59,264.20 651.18,264.75 651.77,265.29 652.37,265.80 652.96,266.30 653.55,266.78 654.15,267.25 654.74,267.70 655.33,268.14 655.93,268.57 656.52,268.98 657.11,269.38 657.70,269.77 658.30,270.15 658.89,270.52 659.48,270.88 660.08,271.23 660.67,271.57 661.26,271.91 661.86,272.23 662.45,272.54 663.04,272.85 663.64,273.15 664.23,273.45 664.82,273.73 665.42,274.01 666.01,274.28 666.60,274.55 667.20,274.81 667.79,275.07 668.38,275.32 668.98,275.56 669.57,275.80 670.16,276.03 670.75,276.26 671.35,276.49 671.94,276.71 672.53,276.92 673.13,277.13 673.72,277.34 674.31,277.54 674.91,277.74 675.50,277.94 676.09,278.13 676.69,278.32 677.28,278.50 677.87,278.68 678.47,278.86 679.06,279.03 679.65,279.20 680.25,279.37 680.84,279.54 681.43,279.70 682.03,279.86 682.62,280.02 683.21,280.17 683.80,280.33 684.40,280.47 684.99,280.62 685.58,280.77 686.18,280.91 686.77,281.05 687.36,281.19 687.96,281.32 688.55,281.46 689.14,281.59 689.74,281.72 690.33,281.85 690.92,281.97 691.52,282.10 692.11,282.22 692.70,282.34 693.30,282.46 693.89,282.58 694.48,282.69 695.08,282.80 695.67,282.92 696.26,283.03 696.85,283.14 697.45,283.24 698.04,283.35 698.63,283.46 699.23,283.56 699.82,283.66 700.41,283.76 701.01,283.86 701.60,283.96 702.19,284.06 702.79,284.15 703.38,284.25 703.97,284.34 704.57,284.43 705.16,284.52 705.75,284.61 706.35,284.70 706.94,284.79 707.53,284.88 708.13,284.96 708.72,285.05 709.31,285.13 709.90,285.21 710.50,285.29 711.09,285.37 711.68,285.45 712.28,285.53 712.87,285.61 713.46,285.69 714.06,285.76 714.65,285.84 715.24,285.91 715.84,285.99 716.43,286.06 717.02,286.13 717.62,286.21 718.21,286.28 718.80,286.35 719.40,286.41 719.99,286.48 720.58,286.55 721.18,286.62 721.77,286.68 722.36,286.75 722.95,286.81 723.55,286.88 724.14,286.94 724.73,287.01 725.33,287.07 725.92,287.13 726.51,287.19 727.11,287.25 727.70,287.31 728.29,287.37 728.89,287.43 729.48,287.49 730.07,287.55 730.67,287.60 731.26,287.66 731.85,287.72 732.45,287.77 733.04,287.83 733.63,287.88 734.23,287.94 734.82,287.99 735.41,288.04 736.00,288.09 736.60,288.15 737.19,288.20 737.78,288.25 738.38,288.30 738.97,288.35 739.56,288.40 740.16,288.45 740.75,288.50 741.34,288.55 741.94,288.60 742.53,288.64 743.12,288.69 743.72,288.74 744.31,288.78 744.90,288.83 745.50,288.88 746.09,288.92 746.68,288.97 747.28,289.01 747.87,289.06 748.46,289.10 749.05,289.14 749.65,289.19 750.24,289.23 750.83,289.27 751.43,289.31 752.02,289.36 752.61,289.40 753.21,289.44 753.80,289.48" fill="none" stroke="#000" stroke-width="2.4" stroke-linejoin="round" stroke-dasharray="0.01,4.1" stroke-linecap="round"/>
<circle cx="635.43" cy="230.91" r="3.9" fill="#000"/>
<circle cx="647.40" cy="262.86" r="3.9" fill="#000"/>
<circle cx="674.00" cy="277.46" r="3.9" fill="#000"/>
<circle cx="700.60" cy="283.06" r="3.9" fill="#000"/>
<circle cx="727.20" cy="287.65" r="3.9" fill="#000"/>
<circle cx="753.80" cy="289.12" r="3.9" fill="#000"/>
<text x="655.3" y="254.2" font-size="10.3">y = 844x<tspan font-size="7.1" dy="-3" style="stroke-width:0.15px">-0.753</tspan></text>
<text x="658.6" y="265.7" font-size="10.2">R<tspan font-size="6" dy="-3.5" style="stroke-width:0.15px">2</tspan><tspan dy="3.5"> = 0.997</tspan></text>
</svg></body></html>
